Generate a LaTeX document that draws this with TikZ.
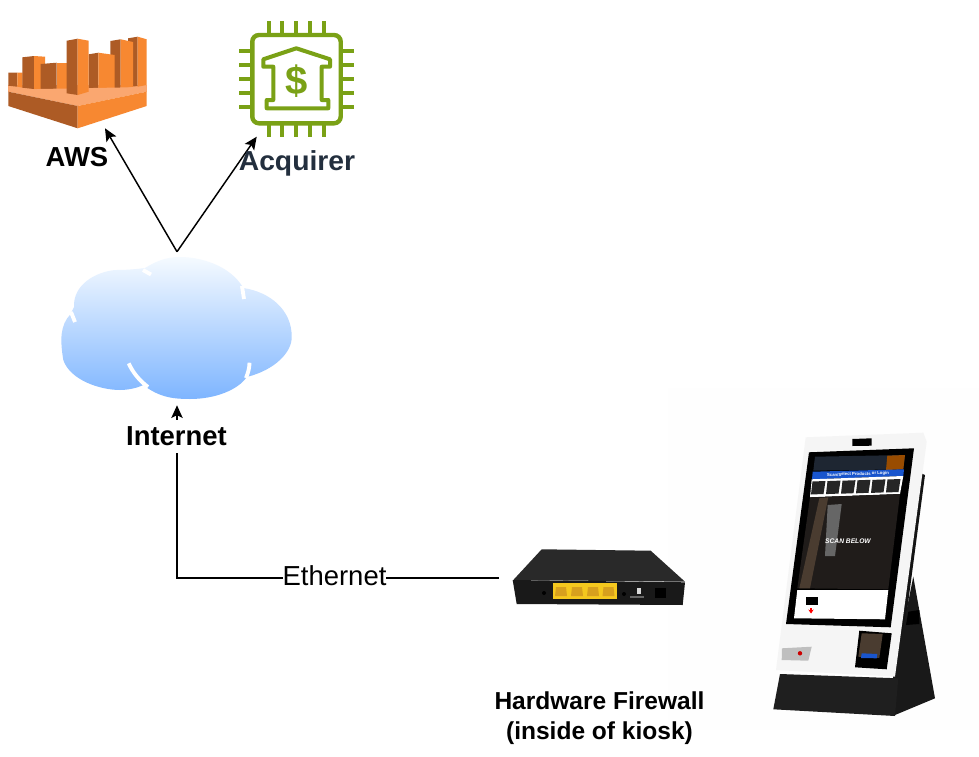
\documentclass[tikz,border=0pt]{standalone}
\usepackage{fontspec}
\setmainfont{Liberation Sans}
\usetikzlibrary{arrows.meta}
\definecolor{awsDark}{RGB}{173,91,37}
\definecolor{awsLight}{RGB}{247,136,49}
\definecolor{awsTop}{RGB}{250,167,112}
\definecolor{chipGreen}{RGB}{122,161,22}
\definecolor{acqText}{RGB}{35,47,62}
\definecolor{cloudTop}{RGB}{245,250,255}
\definecolor{cloudBottom}{RGB}{126,181,255}
\definecolor{backdrop}{RGB}{254,254,254}
\definecolor{portYellow}{RGB}{245,200,30}
\definecolor{portDark}{RGB}{215,160,30}
\definecolor{screenBlue}{RGB}{25,85,205}
\definecolor{screenHead}{RGB}{30,38,50}
\definecolor{screenPic}{RGB}{32,28,26}
\definecolor{screenStrip}{RGB}{74,60,48}
\tikzset{
  edgeline/.style={draw=black, line width=1.1pt},
  tiparrow/.style={edgeline, -{Stealth[length=9.5pt,width=8.5pt,inset=2pt]}},
  chippin/.style={draw=chipGreen, line width=3.1pt},
  labeltext/.style={font=\fontsize{20.6}{23}\selectfont\bfseries, inner sep=0.75pt},
  blockdark/.style={fill=awsDark},
  blocklight/.style={fill=awsLight},
  cloudgap/.style={draw=white, line width=2.9pt}
}
\begin{document}
\begin{tikzpicture}[x=0.75pt,y=0.75pt,yscale=-1]
\useasboundingbox (0,0) rectangle (979,757);
\fill[white] (0,0) rectangle (979,757);

%Shape: kiosk image backdrop
\fill[backdrop] (668,388) rectangle (979,730);

%Shape: AWS base
\fill[awsTop] (8.3,91.7) -- (146.7,91.7) -- (146.7,85) -- (8.3,85) -- cycle;
%Shape: AWS blocks
\fill[blockdark] (8.3,72.7) -- (17.3,72.7) -- (17.3,86.7) -- (8.3,85.7) -- cycle;
\fill[blocklight] (17.3,72.7) -- (22.7,72.7) -- (22.7,87.7) -- (17.3,86.7) -- cycle;
\fill[blockdark] (22.3,57.3) -- (34,56) -- (34,89) -- (22.3,87.7) -- cycle;
\fill[blocklight] (34,56) -- (45,56.7) -- (45,90) -- (34,89) -- cycle;
\fill[blockdark] (40.7,64) -- (56.7,62.7) -- (56.7,91.7) -- (40.7,90) -- cycle;
\fill[blocklight] (56.7,62.7) -- (66.7,62.7) -- (66.7,91.7) -- (56.7,91.7) -- cycle;
\fill[blockdark] (128,38.3) -- (137.7,36.7) -- (137.7,86) -- (128,87) -- cycle;
\fill[blocklight] (137.7,36.7) -- (146.7,39.3) -- (146.7,85) -- (137.7,86.7) -- cycle;
\fill[blockdark] (110.3,41) -- (120.7,39.3) -- (120.7,89) -- (110.3,89.3) -- cycle;
\fill[blocklight] (120.7,39.3) -- (133,42) -- (133,86.7) -- (120.7,89) -- cycle;
\fill[blockdark] (88.7,54.3) -- (98.3,52.7) -- (98.3,92.3) -- (88.7,91.7) -- cycle;
\fill[blocklight] (98.3,52.7) -- (114.7,55) -- (114.7,89.3) -- (98.3,92.3) -- cycle;
\fill[awsTop] (8.3,91.7) -- (40,89) -- (146.7,87) -- (146.7,91.7) -- (77.7,106) -- cycle;
\fill[blockdark] (66.7,40.7) -- (77.7,38.7) -- (77.7,95) -- (66.7,93.3) -- cycle;
\fill[blocklight] (77.7,38.7) -- (88.7,40.7) -- (88.7,91.7) -- (77.7,95) -- cycle;
\fill[awsDark] (8.3,91.7) -- (77.7,106) -- (77.7,128.3) -- (8.3,106) -- cycle;
\fill[awsLight] (146.7,91.7) -- (77.7,106) -- (77.7,128.3) -- (146.7,106) -- cycle;

%Shape: Acquirer chip
\draw[chipGreen, line width=3.3pt, rounded corners=5pt] (252.3,35) rectangle (340.7,123.3);
\foreach \pinx in {269,282.3,296.3,310,324} {
  \draw[chippin] (\pinx,21) -- (\pinx,35);
  \draw[chippin] (\pinx,123.3) -- (\pinx,136.7);
}
\foreach \piny in {51,65,79,92.7,106.7} {
  \draw[chippin] (239.3,\piny) -- (252.3,\piny);
  \draw[chippin] (340.7,\piny) -- (354,\piny);
}
\draw[chipGreen, line width=3pt, line join=round] (263.3,59.3) -- (296.3,48.3) -- (330,59.3) -- (330,66.7) -- (321.7,66.7) -- (321.7,100) -- (328.3,100) -- (328.3,108.3) -- (266.7,108.3) -- (266.7,100) -- (273.3,100) -- (273.3,66.7) -- (263.3,66.7) -- cycle;
\node[text=chipGreen, inner sep=0pt, font=\fontsize{30}{32}\selectfont\bfseries] (dollar) at (296.3,81) {\$};

%Shape: Cloud
\shade[top color=cloudTop, bottom color=cloudBottom] (70.7,314) .. controls (60,325) and (60,340) .. (63.3,360) .. controls (70,380) and (100,390) .. (120,390) .. controls (125,390) and (135,389) .. (143.3,385) .. controls (160,398) and (175,399) .. (190,399) .. controls (215,399) and (238,390) .. (246.7,377) .. controls (275,370) and (292,352) .. (291.7,337) .. controls (292,310) and (270,292) .. (243.3,288) .. controls (230,265) and (200,257) .. (180,257) .. controls (165,257) and (155,262) .. (145,268) .. controls (130,270) and (120,270) .. (115,270) .. controls (95,272) and (73,285) .. (74,307) -- cycle;
\draw[cloudgap] (128.7,363.3) .. controls (133,373) and (140,381) .. (148,387);
\draw[cloudgap] (249.5,362.7) .. controls (249.5,368) and (248,373) .. (246,378);
\draw[cloudgap] (242,286) -- (244,299);
\draw[cloudgap] (143,270) -- (151,274.5);
\draw[cloudgap] (71,312) -- (75,322);

%Shape: Firewall
\fill[black!84] (541.7,549.3) -- (650.7,550.7) -- (685,581.7) -- (513.3,580) -- cycle;
\fill[black!90] (512.7,580) -- (685,582.3) -- (682.7,605) -- (516.7,604) -- cycle;
\fill[portYellow] (553.3,583.3) rectangle (616.7,599.3);
\foreach \portx in {561,577,593,608.5} {
  \fill[portDark] (\portx-5,587) -- (\portx+5,587) -- (\portx+6,596) -- (\portx-6,596) -- cycle;
}
\fill[black] (624,594) circle (2);
\fill[black!60] (630,596) rectangle (644,598);
\fill[white!85!black] (637,588) rectangle (641,594);
\fill[black] (655,588) rectangle (666,598);
\fill[black] (544,593) circle (2);

%Shape: Kiosk stand
\fill[black!92] (913.3,470) -- (925,475) -- (898.3,677) -- (893,677) -- cycle;
\fill[black!90] (913.3,576.7) -- (935,698.3) -- (895,715) -- (893,677) -- cycle;
\fill[black!88] (780,674) -- (898.3,678.3) -- (895,716) -- (773.3,709.3) -- cycle;
\fill[black] (908.3,611.7) -- (919.3,610) -- (919.3,624) -- (906,625) -- cycle;
%Shape: Kiosk panel
\fill[black!4] (805.7,437.3) -- (923.3,432.7) -- (926.7,441.7) -- (895,676.7) -- (776,670) -- cycle;
\fill[black] (809,452.3) -- (914,448.3) -- (890.7,627.3) -- (786,624) -- cycle;
\fill[black] (852.3,439) -- (871.7,438.3) -- (871.7,445.7) -- (852.3,446) -- cycle;
%Shape: Kiosk screen
\fill[screenHead] (815,456.7) -- (905,455) -- (903.3,469.3) -- (813.3,470.7) -- cycle;
\fill[orange!60!black] (887.3,455.7) -- (905,455) -- (903.3,469.3) -- (886,470) -- cycle;
\fill[screenBlue] (812.7,471.7) -- (904,469.3) -- (903.3,476) -- (812,479.3) -- cycle;
\node[text=white, inner sep=0pt, rotate=2, font=\fontsize{3.2}{4}\selectfont\bfseries] (barText) at (858,474.3) {Scan/Select Products or Login};
\fill[white] (811.7,479.3) -- (903.3,476) -- (900,494) -- (810,497.3) -- cycle;
\foreach \tilex in {0,1,2,3,4,5} {
  \fill[black!85] (812.5+15*\tilex,481.5-0.4*\tilex) -- (825.5+15*\tilex,481-0.4*\tilex) -- (823.5+15*\tilex,494-0.4*\tilex) -- (811+15*\tilex,494.5-0.4*\tilex) -- cycle;
}
\fill[screenPic] (810,497.3) -- (900,494) -- (888.3,589.3) -- (797.3,588.3) -- cycle;
\fill[screenStrip] (819.3,498.3) -- (828.3,497.3) -- (810,588.3) -- (799.3,588.3) -- cycle;
\fill[black!60] (827.7,505) -- (841.7,504) -- (835,556) -- (825,556) -- cycle;
\node[text=white, inner sep=0pt, font=\fontsize{5}{6}\selectfont\bfseries\itshape] (scanBelow) at (848,541) {SCAN BELOW};
\fill[white] (797.3,590) -- (888.3,590) -- (885,619.3) -- (794,618.3) -- cycle;
\fill[black] (806,596.7) rectangle (818.3,605);
\draw[red, line width=1pt, -{Stealth[length=3pt,width=4pt]}] (811,608) -- (811,613.5);
%Shape: Kiosk reader
\fill[black] (859.3,630.7) -- (891.7,633.3) -- (886.7,669.3) -- (855,667.3) -- cycle;
\fill[screenStrip] (861.7,633.3) -- (882.7,634) -- (879.3,658) -- (858.3,656.7) -- cycle;
\fill[screenBlue] (861.7,653.3) -- (877.3,654) -- (876.7,658.3) -- (861,658) -- cycle;
\fill[black!25] (782,648.3) -- (811.7,646.7) -- (808.3,660.7) -- (781.7,660) -- cycle;
\fill[red!80!black] (800,653.3) circle (2.2);

% Named places
\node[inner sep=0pt, minimum width=232*0.75pt, minimum height=153*0.75pt] (cloud) at (177,328.5) {};
\coordinate (awsTip) at (105,128.3);
\coordinate (acqTip) at (256.7,136.7);
\coordinate (fwEnd) at (499,578);
\coordinate (corner) at (177,578);

%Straight Lines
\draw[tiparrow] (cloud.north) -- (awsTip);
\draw[tiparrow] (cloud.north) -- (acqTip);
\draw[tiparrow] (fwEnd) -- (corner) -- (cloud.south);

% Text Node
\node[labeltext] (awsLabel) at (77,157) {AWS};
\node[labeltext, text=acqText] (acqLabel) at (297,163) {\addfontfeature{FakeStretch=1.03}Acquirer};
\node[labeltext, fill=white, inner sep=2pt, minimum height=25pt] (inetLabel) at (176.5,436.5) {Internet};
\node[fill=white, inner ysep=1pt, inner xsep=0pt, font=\fontsize{20.6}{23}\selectfont] (ethLabel) at (334.5,576) {Ethernet};
\node[inner sep=0.75pt, align=center, font=\fontsize{18.4}{22.5}\selectfont\bfseries] (fwLabel) at (599.5,718) {Hardware Firewall\\(inside of kiosk)};
\end{tikzpicture}
\end{document}
